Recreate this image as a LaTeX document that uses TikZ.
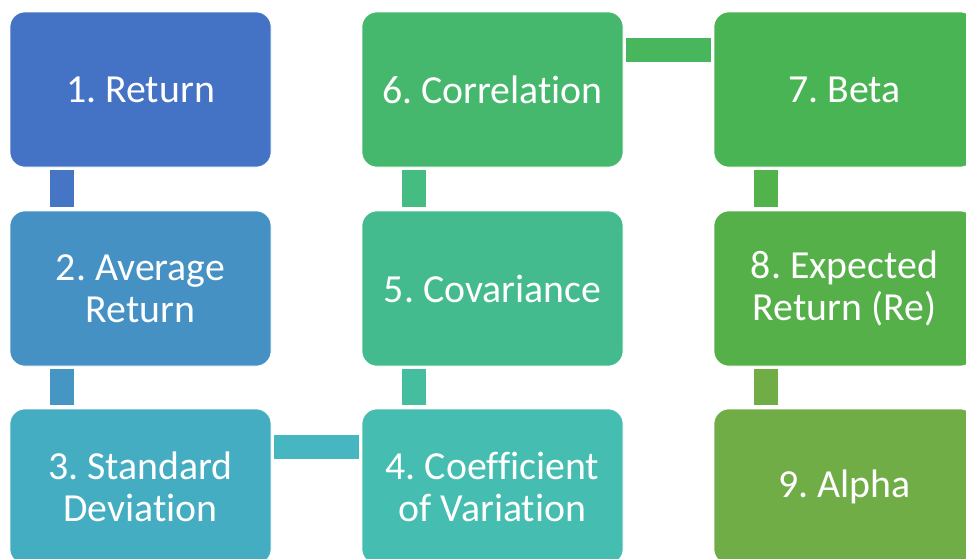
\documentclass[tikz,border=0pt]{standalone}
\usepackage{fontspec}
\setmainfont[Ligatures={NoCommon}]{Carlito}
\frenchspacing
\usetikzlibrary{calc}
\definecolor{c1}{HTML}{4472C4}
\definecolor{c2}{HTML}{4591C4}
\definecolor{c3}{HTML}{45ADC1}
\definecolor{c4}{HTML}{45BDB0}
\definecolor{c5}{HTML}{44BB8E}
\definecolor{c6}{HTML}{45B86E}
\definecolor{c7}{HTML}{49B453}
\definecolor{c8}{HTML}{55B04A}
\definecolor{c9}{HTML}{70AD47}
\definecolor{k12}{HTML}{4575C4}
\definecolor{k23}{HTML}{4596C2}
\definecolor{k34}{HTML}{46B6C0}
\definecolor{k45}{HTML}{45BE9F}
\definecolor{k56}{HTML}{45BC82}
\definecolor{k67}{HTML}{48B65C}
\definecolor{k78}{HTML}{52B24B}
\definecolor{k89}{HTML}{70AD47}
\tikzset{
  stepbox/.style={rectangle, rounded corners=15pt, minimum width=261pt, minimum height=155pt,
    inner sep=0pt, draw=white, line width=0.6pt, text=white, align=center,
    font=\fontsize{39.8}{42}\selectfont},
  linkbar/.style={line width=24pt}
}
\begin{document}
\begin{tikzpicture}[x=1pt,y=-1pt]
\useasboundingbox (0,0) rectangle (966,558);
\clip (0,0) rectangle (966,558);
\node[stepbox, fill=c1] (b1) at (140.5,89.5) {1. Return};
\node[stepbox, fill=c2] (b2) at (140.5,288.5) {2. Average\\Return};
\node[stepbox, fill=c3] (b3) at (140.5,486.5) {3. Standard\\Deviation};
\node[stepbox, fill=c4] (b4) at (492.5,486.5) {4. Coefficient\\of Variation};
\node[stepbox, fill=c5] (b5) at (492.5,288.5) {5. Covariance};
\node[stepbox, fill=c6] (b6) at (492.5,89.5) {6. Correlation};
\node[stepbox, fill=c7] (b7) at (844.5,89.5) {7. Beta};
\node[stepbox, fill=c8] (b8) at (844.5,288.5) {8. Expected\\Return (Re)};
\node[stepbox, fill=c9] (b9) at (844.5,486.5) {9. Alpha};
% vertical links
\draw[linkbar, k12] ($(b1.south west)+(52,3)$) -- ($(b2.north west)+(52,-4)$);
\draw[linkbar, k23] ($(b2.south west)+(52,3)$) -- ($(b3.north west)+(52,-4)$);
\draw[linkbar, k45] ($(b4.north west)+(52,-4)$) -- ($(b5.south west)+(52,3)$);
\draw[linkbar, k56] ($(b5.north west)+(52,-4)$) -- ($(b6.south west)+(52,3)$);
\draw[linkbar, k78] ($(b7.south west)+(52,3)$) -- ($(b8.north west)+(52,-4)$);
\draw[linkbar, k89] ($(b8.south west)+(52,3)$) -- ($(b9.north west)+(52,-4)$);
% horizontal links
\draw[linkbar, k34] ($(b3.north east)+(3,38)$) -- ($(b4.north west)+(-3,38)$);
\draw[linkbar, k67] ($(b6.north east)+(3,38)$) -- ($(b7.north west)+(-3,38)$);
\end{tikzpicture}
\end{document}
